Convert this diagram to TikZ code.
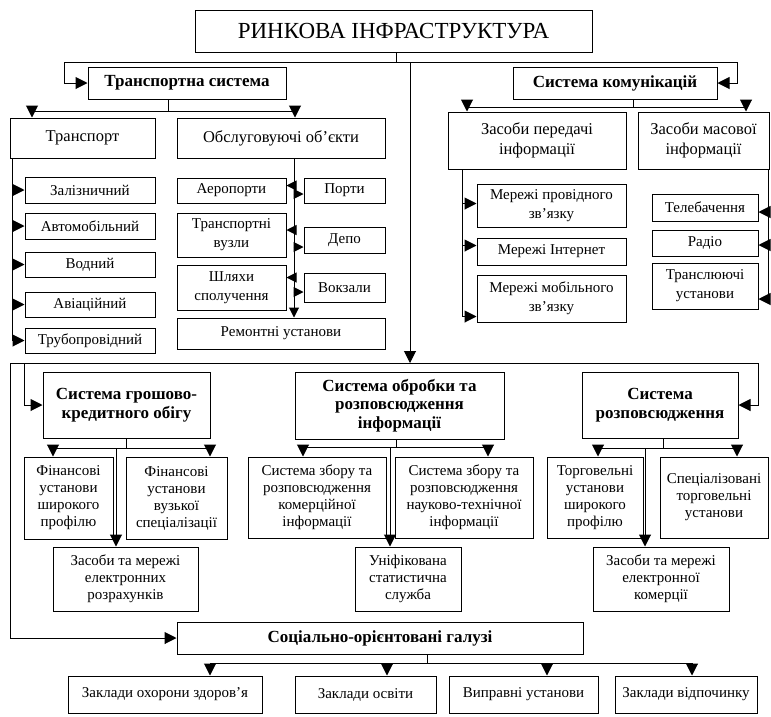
\documentclass[tikz,border=0pt]{standalone}
\usepackage{fontspec}
\setmainfont{Liberation Serif}
\usetikzlibrary{arrows.meta,calc}
\tikzset{
  bx/.style={draw, line width=1pt, inner sep=1pt, align=center, text=black},
  upb/.style={font=\fontsize{16.5}{20}\selectfont},
  up/.style={font=\fontsize{15}{19}\selectfont},
  lo/.style={font=\fontsize{15}{17}\selectfont},
  hd/.style={font=\fontsize{17}{18.5}\selectfont\bfseries},
  ttl/.style={font=\fontsize{23}{26}\selectfont},
  ln/.style={line width=1pt},
  arr/.style={line width=1pt, -{Triangle[length=12pt,width=12pt]}},
  sarr/.style={line width=1pt, -{Triangle[length=10pt,width=10pt]}}
}
\newcommand{\mybox}[7]{%
  \pgfmathsetmacro\bxc{(#3+#5)/2}\pgfmathsetmacro\byc{(#4+#6)/2}%
  \pgfmathsetmacro\bw{#5-#3}\pgfmathsetmacro\bh{#6-#4}%
  \node[bx,#1,minimum width=\bw pt,minimum height=\bh pt] (#2) at (\bxc,\byc) {#7};}
\begin{document}
\begin{tikzpicture}[x=1pt,y=-1pt]
\useasboundingbox (0,0) rectangle (771,716);
% ---------- nodes ----------
\mybox{ttl}{root}{195}{10}{592}{52}{РИНКОВА ІНФРАСТРУКТУРА}
\mybox{hd}{ts}{88}{67}{286}{99}{Транспортна система}
\mybox{hd}{sk}{513}{67}{717}{99}{Система комунікацій}
\mybox{upb}{tr}{10}{118}{155}{158}{Транспорт}
\mybox{upb}{ob}{177}{118}{385}{158}{Обслуговуючі об’єкти}
\mybox{upb}{zp}{448}{112}{626}{169}{Засоби передачі\\інформації}
\mybox{upb}{zm}{638}{112}{769}{169}{Засоби масової\\інформації}
% transport
\mybox{up}{t1}{25}{177}{155}{203}{Залізничний}
\mybox{up}{t2}{25}{213}{155}{239}{Автомобільний}
\mybox{up}{t3}{25}{252}{155}{277}{Водний}
\mybox{up}{t4}{25}{292}{155}{317}{Авіаційний}
\mybox{up}{t5}{25}{328}{155}{353}{Трубопровідний}
% service objects
\mybox{up}{o1}{177}{178}{286}{203}{Аеропорти}
\mybox{up}{o2}{177}{213}{286}{257}{Транспортні\\вузли}
\mybox{up}{o3}{177}{265}{286}{310}{Шляхи\\сполучення}
\mybox{up}{p1}{304}{178}{385}{203}{Порти}
\mybox{up}{p2}{304}{227}{385}{253}{Депо}
\mybox{up}{p3}{304}{273}{385}{302}{Вокзали}
\mybox{up}{rem}{177}{318}{385}{349}{Ремонтні установи}
% communication
\mybox{up}{m1}{477}{184}{626}{227}{Мережі провідного\\зв’язку}
\mybox{up}{m2}{477}{238}{626}{265}{Мережі Інтернет}
\mybox{up}{m3}{477}{275}{626}{322}{Мережі мобільного\\зв’язку}
\mybox{up}{r1}{652}{194}{758}{221}{Телебачення}
\mybox{up}{r2}{652}{230}{758}{256}{Радіо}
\mybox{up}{r3}{652}{263}{758}{309}{Транслюючі\\установи}
% lower systems
\mybox{hd}{gk}{43}{372}{210}{438}{Система грошово-\\кредитного обігу}
\mybox{hd}{oi}{295}{372}{504}{439}{Система обробки та\\розповсюдження\\інформації}
\mybox{hd}{rz}{582}{372}{738}{438}{Система\\розповсюдження}
\mybox{lo}{f1}{24}{457}{113}{539}{Фінансові\\установи\\широкого\\профілю}
\mybox{lo}{f2}{126}{457}{227}{539}{Фінансові\\установи\\вузької\\спеціалізації}
\mybox{lo}{ezr}{53}{547}{198}{611}{Засоби та мережі\\електронних\\розрахунків}
\mybox{lo}{k1}{248}{457}{386}{538}{Система збору та\\розповсюдження\\комерційної\\інформації}
\mybox{lo}{k2}{395}{457}{533}{538}{Система збору та\\розповсюдження\\науково-технічної\\інформації}
\mybox{lo}{usl}{355}{547}{461}{611}{Уніфікована\\статистична\\служба}
\mybox{lo}{u1}{547}{457}{643}{538}{Торговельні\\установи\\широкого\\профілю}
\mybox{lo}{u2}{660}{457}{768}{538}{Спеціалізовані\\торговельні\\установи}
\mybox{lo}{ek}{593}{547}{729}{611}{Засоби та мережі\\електронної\\комерції}
% social
\mybox{hd}{soc}{177}{622}{583}{654}{Соціально-орієнтовані галузі}
\mybox{up}{s1}{68}{676}{262}{713}{Заклади охорони здоров’я}
\mybox{up}{s2}{295}{676}{436}{713}{Заклади освіти}
\mybox{up}{s3}{449}{676}{598}{713}{Виправні установи}
\mybox{up}{s4}{615}{676}{757}{713}{Заклади відпочинку}
% ---------- connectors ----------
\coordinate (bL) at (64,62); \coordinate (bR) at (737,62);
\coordinate (bT) at (396,62);
\draw[ln] (root.south -| bT) -- (bT);
\draw[ln] (bL) -- (bR);
\draw[arr] (bL) |- (ts.west);
\draw[arr] (bR) |- (sk.east);
\coordinate (trT) at (410,62); \coordinate (trB) at (410,363);
\draw[arr] (trT) -- (trB);
% transport system
\coordinate (tsj) at (168,111);
\coordinate (tsL) at (32,111); \coordinate (tsR) at (295,111);
\draw[ln] (ts.south -| tsj) -- (tsj);
\draw[ln] (tsL) -- (tsR);
\draw[arr] (tsL) -- (tsL |- tr.north);
\draw[arr] (tsR) -- (tsR |- ob.north);
\coordinate (trv) at (12,158);
\foreach \n in {t1,t2,t3,t4,t5} \draw[arr] (trv) |- (\n.west);
\coordinate (obv) at (294,158);
\draw[sarr] (obv) -- (obv |- rem.north);
\draw[sarr] ($(o1.east)+(8,-5)$) -- ($(o1.east)+(0,-5)$);
\draw[sarr] ($(o2.east)+(8,-5)$) -- ($(o2.east)+(0,-5)$);
\draw[sarr] ($(o3.east)+(8,-10)$) -- ($(o3.east)+(0,-10)$);
\draw[sarr] ($(p1.west)+(-10,3.5)$) -- ($(p1.west)+(0,3.5)$);
\draw[sarr] ($(p2.west)+(-10,7)$) -- ($(p2.west)+(0,7)$);
\draw[sarr] ($(p3.west)+(-10,4.5)$) -- ($(p3.west)+(0,4.5)$);
% communications
\coordinate (skj) at (633,107);
\coordinate (skL) at (467,107); \coordinate (skR) at (746,107);
\draw[ln] (sk.south -| skj) -- (skj);
\draw[ln] (skL) -- (skR);
\draw[arr] (skL) -- (skL |- zp.north);
\draw[arr] (skR) -- (skR |- zm.north);
\coordinate (zpv) at (462,169);
\draw[arr] (zpv) |- ($(m1.west)+(0,-2)$);
\draw[arr] (zpv) |- ($(m2.west)+(0,-6)$);
\draw[arr] (zpv) |- ($(m3.west)+(0,18)$);
\coordinate (zmv) at (768,169);
\draw[arr] (zmv) |- ($(r1.east)+(0,4.5)$);
\draw[arr] (zmv) |- ($(r2.east)+(0,2)$);
\draw[arr] (zmv) |- ($(r3.east)+(0,13)$);
% lower frame
\coordinate (fL) at (10,363); \coordinate (fR) at (758,363);
\coordinate (fI) at (24,363);
\draw[ln] (fL) -- (fR);
\draw[arr] (fL) |- (soc.west);
\draw[arr] (fR) |- (rz.east);
\draw[arr] (fI) |- (gk.west);
% money system
\coordinate (gkj) at (126,448);
\coordinate (gkL) at (53,448); \coordinate (gkR) at (210,448);
\coordinate (gkv) at (116,448);
\draw[ln] (gk.south -| gkj) -- (gkj);
\draw[ln] (gkL) -- (gkR);
\draw[arr] (gkL) -- (gkL |- f1.north);
\draw[arr] (gkR) -- (gkR |- f2.north);
\draw[arr] (gkv) -- (gkv |- ezr.north);
% information system
\coordinate (oij) at (396,447);
\coordinate (oiL) at (303,447); \coordinate (oiR) at (488,447);
\coordinate (oiv) at (390,447);
\draw[ln] (oi.south -| oij) -- (oij);
\draw[ln] (oiL) -- (oiR);
\draw[arr] (oiL) -- (oiL |- k1.north);
\draw[arr] (oiR) -- (oiR |- k2.north);
\draw[arr] (oiv) -- (oiv |- usl.north);
% distribution system
\coordinate (rzj) at (663,448);
\coordinate (rzL) at (598,448); \coordinate (rzR) at (737,448);
\coordinate (rzv) at (645,448);
\draw[ln] (rz.south -| rzj) -- (rzj);
\draw[ln] (rzL) -- (rzR);
\draw[arr] (rzL) -- (rzL |- u1.north);
\draw[arr] (rzR) -- (rzR |- u2.north);
\draw[arr] (rzv) -- (rzv |- ek.north);
% social
\coordinate (sj) at (427,663);
\coordinate (sA) at (210,663); \coordinate (sB) at (387,663);
\coordinate (sC) at (547,663); \coordinate (sD) at (692,663);
\draw[ln] (soc.south -| sj) -- (sj);
\draw[ln] (sA) -- (sD);
\draw[arr] (sA) -- (sA |- s1.north);
\draw[arr] (sB) -- (sB |- s2.north);
\draw[arr] (sC) -- (sC |- s3.north);
\draw[arr] (sD) -- (sD |- s4.north);
\end{tikzpicture}
\end{document}
